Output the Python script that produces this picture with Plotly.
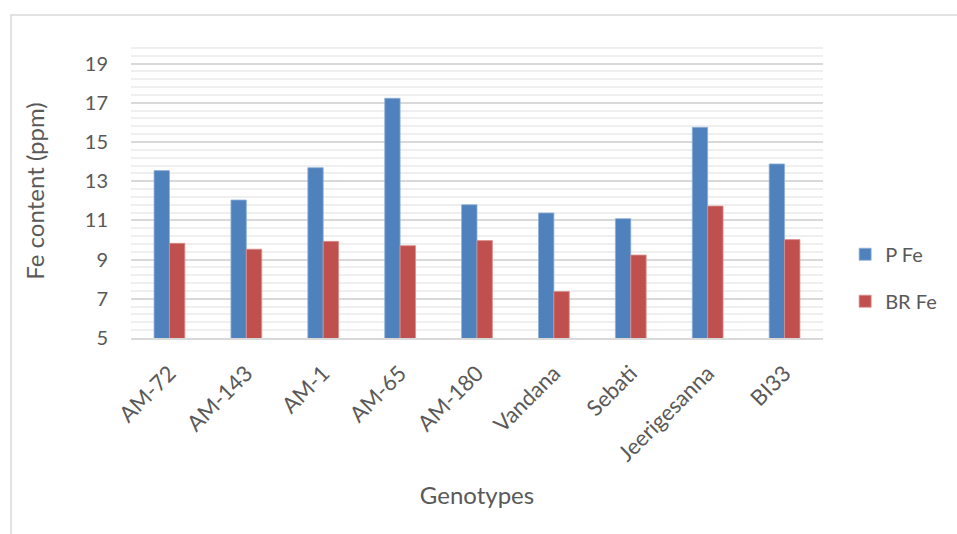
import plotly.graph_objects as go

# Iron content of each genotype
genotypes = ["AM-72", "AM-143", "AM-1", "AM-65", "AM-180", "Vandana",
             "Sebati", "Jeerigesanna", "BI33"]
p_fe = [13.54, 12.04, 13.69, 17.23, 11.80, 11.38, 11.09, 15.75, 13.88]
br_fe = [9.83, 9.53, 9.93, 9.71, 9.97, 7.37, 9.23, 11.73, 10.02]

y_ticks = [5, 7, 9, 11, 13, 15, 17, 19]

TEXT = "#595959"
FONT = "Lato"

fig = go.Figure()
fig.add_trace(go.Bar(x=genotypes, y=p_fe, name="P Fe", legendgroup="p",
                     marker=dict(color="#4f81bd", line=dict(color="#8fb0d8", width=0.8))))
fig.add_trace(go.Bar(x=genotypes, y=br_fe, name="BR Fe", legendgroup="br",
                     marker=dict(color="#c0504d", line=dict(color="#d98e8c", width=0.8))))

fig.update_layout(
    width=957, height=534,
    margin=dict(l=131, r=134, t=44, b=196),
    paper_bgcolor="white", plot_bgcolor="white",
    barmode="group", bargap=0.6, bargroupgap=0,
    font=dict(family=FONT, color=TEXT, size=20),
    legend=dict(x=1.032, xanchor="left", y=0.205, yanchor="middle",
                font=dict(family=FONT, size=20, color=TEXT),
                traceorder="grouped", tracegroupgap=18,
                bgcolor="rgba(0,0,0,0)"),
    xaxis=dict(
        tickangle=-45, tickfont=dict(family=FONT, size=22, color=TEXT),
        showline=True, linecolor="#d9d9d9", linewidth=1.5,
        showgrid=False, ticks="", ticklabelstandoff=12,
        title=dict(text="Genotypes", font=dict(family=FONT, size=24, color=TEXT),
                   standoff=22),
    ),
    yaxis=dict(
        range=[5, 20], tickvals=y_ticks, ticktext=[str(v) for v in y_ticks],
        tickfont=dict(family=FONT, size=20, color=TEXT),
        showgrid=True, gridcolor="#d9d9d9", gridwidth=1.5,
        zeroline=False, showline=False, ticks="",
        ticklabelstandoff=22,
        minor=dict(dtick=0.4, tick0=5, showgrid=True, gridcolor="#efefef", gridwidth=1.5),
        title=dict(text="Fe content (ppm)", font=dict(family=FONT, size=24, color=TEXT),
                   standoff=33),
    ),
    shapes=[dict(type="rect", xref="paper", yref="paper",
                 x0=-0.1734, x1=1.21, y0=-0.72, y1=1.0985,
                 line=dict(color="#d9d9d9", width=1.5), layer="below")],
)

fig.write_html("out.html")
